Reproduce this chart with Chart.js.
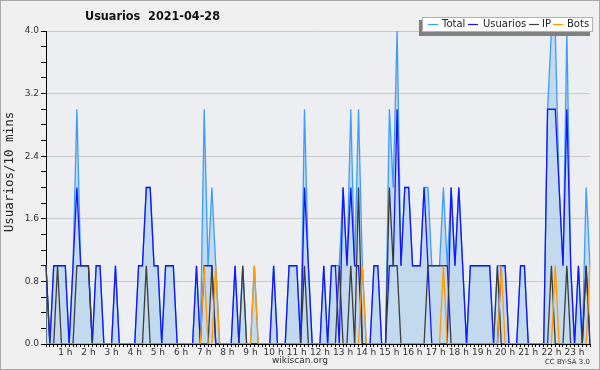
<!DOCTYPE html>
<html><head><meta charset="utf-8">
<script src="https://cdn.jsdelivr.net/npm/chart.js@4/dist/chart.umd.min.js"></script>
<style>html,body{margin:0;padding:0;background:#efefef;}canvas{display:block;}</style>
</head><body>
<canvas id="c" width="600" height="370"></canvas>
<script>
const hourLabels = ['1 h','2 h','3 h','4 h','5 h','6 h','7 h','8 h','9 h','10 h','11 h','12 h','13 h','14 h','15 h','16 h','17 h','18 h','19 h','20 h','21 h','22 h','23 h'];
const yTickLabels = ['0.0','0.8','1.6','2.4','3.2','4.0'];
const seriesNames = ['Total','Usuarios','IP','Bots'];

const total = [
1,0,1,1,1,1,0,1,3,1, 1,1,0,1,1,0,0,0,1,0,
0,0,0,0,1,1,2,2,1,1, 0,1,1,1,0,0,0,0,0,1,
0,3,1,2,1,0,0,0,0,1, 0,1,0,0,1,0,0,0,0,1,
0,0,0,1,1,1,0,3,1,0, 0,0,1,0,1,1,1,2,1,3,
1,3,1,0,0,1,1,0,0,3, 2,4,1,2,2,1,1,1,2,2,
1,1,1,2,1,2,1,2,1,0, 1,1,1,1,1,1,0,1,1,1,
0,0,0,1,1,0,0,0,0,0, 3,4,4,2,1,4,1,0,1,0, 2,1];
const usuarios = [
1,0,1,1,1,1,0,1,2,1, 1,1,0,1,1,0,0,0,1,0,
0,0,0,0,1,1,2,2,1,1, 0,1,1,1,0,0,0,0,0,1,
0,1,1,1,0,0,0,0,0,1, 0,0,0,0,0,0,0,0,0,1,
0,0,0,1,1,1,0,2,1,0, 0,0,1,0,1,1,0,2,1,2,
1,1,0,0,0,1,1,0,0,1, 1,3,1,2,2,1,1,1,2,1,
0,0,0,0,0,2,1,2,1,0, 1,1,1,1,1,1,0,0,1,1,
0,0,0,1,1,0,0,0,0,0, 3,3,3,2,1,3,1,0,1,0, 1,0];
const ip = [
1,0,0,1,0,0,0,0,1,1, 1,1,0,0,0,0,0,0,0,0,
0,0,0,0,0,0,1,0,0,0, 0,0,0,0,0,0,0,0,0,0,
0,0,0,1,0,0,0,0,0,0, 0,1,0,0,0,0,0,0,0,0,
0,0,0,0,0,0,0,1,0,0, 0,0,0,0,0,0,1,0,0,1,
0,2,0,0,0,0,0,0,0,2, 1,1,0,0,0,0,0,0,0,1,
1,1,1,1,1,0,0,0,0,0, 0,0,0,0,0,0,0,1,0,0,
0,0,0,0,0,0,0,0,0,0, 0,1,0,0,0,1,0,0,0,0, 1,0];
const bots = [
0,0,0,0,0,0,0,0,0,0, 0,0,0,0,0,0,0,0,0,0,
0,0,0,0,0,0,0,0,0,0, 0,0,0,0,0,0,0,0,0,0,
0,1,0,0,1,0,0,0,0,0, 0,0,0,0,1,0,0,0,0,0,
0,0,0,0,0,0,0,0,0,0, 0,0,0,0,0,0,0,0,0,0,
0,0,1,0,0,0,0,0,0,0, 0,0,0,0,0,0,0,0,0,0,
0,0,0,1,0,0,0,0,0,0, 0,0,0,0,0,0,0,0,1,0,
0,0,0,0,0,0,0,0,0,0, 0,0,1,0,0,0,0,0,0,0, 0,1];

const colors = { Total:'#3d9cff', Usuarios:'#1414ff', IP:'#3c3c3c', Bots:'#ff9900' };
const slots = total.map((_, i) => i);

function isMajor(v){ const k=Math.round(v/0.8); return Math.abs(v-k*0.8)<1e-6; }

const deco = {
  id:'deco',
  beforeDraw(chart){
    const {ctx, chartArea:a} = chart;
    ctx.save();
    ctx.fillStyle='#efefef'; ctx.fillRect(0,0,600,370);
    ctx.fillStyle='#eceef1'; ctx.fillRect(a.left,a.top,a.right-a.left,a.bottom-a.top);
    ctx.restore();
  },
  afterDraw(chart){
    const ctx = chart.ctx;
    ctx.save();
    ctx.strokeStyle='#a8a8a8'; ctx.lineWidth=1; ctx.strokeRect(0.5,0.5,599,369);
    ctx.fillStyle='#111'; ctx.font="bold 12.5px 'DejaVu Sans Condensed','Liberation Sans',sans-serif";
    ctx.textAlign='left'; ctx.textBaseline='middle';
    ctx.fillText('Usuarios  2021-04-28', 85, 17);
    ctx.save(); ctx.translate(10,172); ctx.rotate(-Math.PI/2);
    ctx.font="12.5px 'DejaVu Sans Mono',monospace"; ctx.textAlign='center'; ctx.fillStyle='#222';
    ctx.fillText('Usuarios/10 mins',0,0); ctx.restore();
    ctx.fillStyle='#808080'; ctx.fillRect(419,20,171,16);
    ctx.fillStyle='#ffffff'; ctx.fillRect(422,17,171,15);
    ctx.strokeStyle='#b0b0b0'; ctx.strokeRect(422.5,17.5,170,14);
    const items = [[seriesNames[0],428,442],[seriesNames[1],468,483],[seriesNames[2],529,542],[seriesNames[3],553,567]];
    ctx.font="10px 'DejaVu Sans',sans-serif"; ctx.textAlign='left'; ctx.textBaseline='middle';
    items.forEach(([n,lx,tx])=>{
      ctx.strokeStyle=colors[n]; ctx.lineWidth=1.2; ctx.beginPath(); ctx.moveTo(lx,24.5); ctx.lineTo(lx+10,24.5); ctx.stroke();
      ctx.fillStyle='#222'; ctx.fillText(n,tx,24.5);
    });
    ctx.fillStyle='#333'; ctx.font="9px 'DejaVu Sans',sans-serif"; ctx.textAlign='center';
    ctx.fillText('wikiscan.org',300,361);
    ctx.font="7px 'DejaVu Sans',sans-serif"; ctx.textAlign='right';
    ctx.fillText('CC BY-SA 3.0',590,362);
    ctx.restore();
  }
};

const ds = (name, data, extra) => Object.assign({
  label:name, data, borderColor:colors[name], borderWidth:1.3, pointRadius:0, tension:0, fill:false
}, extra||{});

new Chart(document.getElementById('c'), {
  type:'line',
  data:{ labels:slots, datasets:[
    ds('Total', total, {fill:'origin', backgroundColor:'rgba(160,200,235,0.55)', order:4}),
    ds('Usuarios', usuarios, {order:3}),
    ds('IP', ip, {order:2}),
    ds('Bots', bots, {order:1})
  ]},
  options:{
    responsive:false, animation:false, events:[],
    layout:{padding:{left:0,right:10,top:31,bottom:0}},
    plugins:{legend:{display:false}, title:{display:false}, tooltip:{enabled:false}},
    scales:{
      x:{
        type:'category', offset:false,
        afterFit(s){ s.height=26; },
        grid:{drawOnChartArea:false, tickLength:3, tickColor:'#000', offset:false},
        border:{color:'#000', width:1},
        ticks:{autoSkip:false, maxRotation:0, minRotation:0, padding:0,
          color:'#333', font:{family:'DejaVu Sans', size:9},
          callback:(v,i)=> ((i+1)%6===0 && i>0) ? hourLabels[(i+1)/6-1] : ''}
      },
      y:{
        min:0, max:4,
        afterFit(s){ s.width=46; },
        grid:{color:(c)=> (c.tick && isMajor(c.tick.value) && c.tick.value>0) ? '#c8c8c8' : 'rgba(0,0,0,0)', tickLength:5, tickColor:'#000', lineWidth:1},
        border:{color:'#000', width:1},
        ticks:{stepSize:0.2, autoSkip:false, padding:2, color:'#333', font:{family:'DejaVu Sans', size:9},
          callback:(v)=> isMajor(v) ? yTickLabels[Math.round(v/0.8)] : ''}
      }
    }
  },
  plugins:[deco]
});
</script>
</body></html>
